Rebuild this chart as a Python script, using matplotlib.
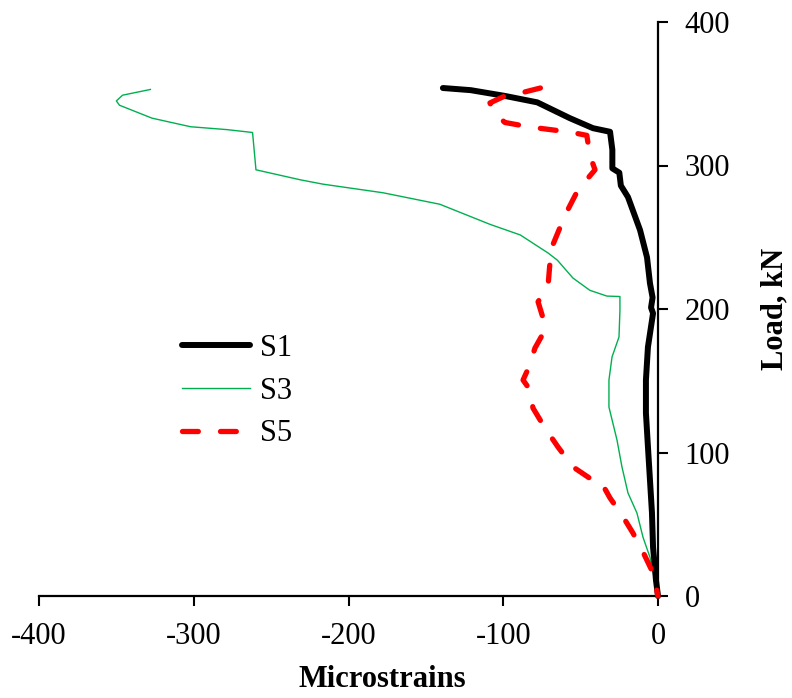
import numpy as np
import matplotlib
matplotlib.use('Agg')
import matplotlib.pyplot as plt

plt.rcParams['font.family'] = ['Liberation Serif', 'DejaVu Serif']
plt.rcParams['axes.unicode_minus'] = False

# S1 - black thick
s1_x = [-139, -121, -99, -78, -57, -42, -31, -29.5, -29.5, -25, -24, -19.4, -11.6, -7.1,
        -5.2, -3.5, -4.5, -3.2, -6.5, -7.8, -7.8, -6.5, -5.2, -3.9, -3.2, -1.3, 0]
s1_y = [354, 352.5, 348.5, 344, 333, 326, 323.5, 311, 298, 295, 286, 278, 255, 236,
        218, 208, 201, 197, 173.5, 150.5, 127.5, 104, 81, 58, 34, 11, 0]

# S3 - green thin
s3_x = [-328, -346, -350, -348, -327, -302, -278.5, -262, -259.8, -231, -216.5, -177.7,
        -141, -108.6, -89, -71, -65, -55, -44, -33, -24.6, -24.6, -25.2, -29.7, -31.7,
        -31.7, -26.5, -23.3, -19.4, -13.6, -9.7, -5.2, -1.9, 0]
s3_y = [353, 349, 345, 342, 333, 327, 325, 323, 297, 290, 287, 281,
        273, 259, 251.6, 239, 234, 221.6, 213, 209, 208.7, 199, 180.5, 166.6, 150.5,
        131.7, 108.7, 90, 71.8, 57.8, 41, 27, 11, 0]

# S5 - red dashed
s5_x = [-76, -87, -99, -108.6, -106, -99, -82.7, -57, -46, -44, -40.7, -51.7, -60, -68,
        -70, -71, -77.5, -74.3, -73.7, -79.5, -83.4, -87.2, -82.7, -80.8, -73, -64.6,
        -55, -44, -37.5, -31, -23.3, -16.2, -9.7, -3.2, 0]
s5_y = [354, 351, 348.4, 343.6, 337, 330, 326.8, 323.3, 321, 307, 297, 283, 265.5, 244.6,
        230, 216.7, 205, 193.7, 184, 172.8, 159.6, 150.5, 143.6, 131, 117, 103.8,
        90, 82, 80.8, 68.3, 56.4, 43.9, 30.7, 16, 0]

fs = 22
fig = plt.figure(figsize=(7.92, 6.98), dpi=100)
ax = fig.add_axes([39/792, 1-596/698, 619/792, 574/698])

l3, = ax.plot(s3_x, s3_y, color='#00B050', lw=1.0, zorder=2, clip_on=False)
l1, = ax.plot(s1_x, s1_y, color='black', lw=4.3, solid_capstyle='round',
              solid_joinstyle='round', zorder=3, clip_on=False)
l5, = ax.plot(s5_x, s5_y, color='#FF0000', lw=3.8, dashes=(3, 4.2),
              dash_capstyle='round', zorder=4, clip_on=False)

ax.set_xlim(-400, 0)
ax.set_ylim(0, 400)
ax.set_xticks([-400, -300, -200, -100, 0])
ax.set_yticks([0, 100, 200, 300, 400])

ax.spines['left'].set_visible(False)
ax.spines['top'].set_visible(False)
ax.spines['bottom'].set_linewidth(1.6)
ax.spines['right'].set_linewidth(1.6)
ax.yaxis.tick_right()
ax.yaxis.set_label_position('right')
ax.tick_params(axis='x', direction='out', length=7, width=1.5, labelsize=fs, pad=12)
ax.tick_params(axis='y', direction='out', length=7, width=1.5, labelsize=fs, pad=12)

ax.set_xlabel('Microstrains', fontsize=fs, fontweight='bold', labelpad=10, x=0.554)
ax.set_ylabel('Load, kN', fontsize=fs, fontweight='bold', labelpad=22)

ax.legend([l1, l3, l5], ['S1', 'S3', 'S5'], loc='center left',
          bbox_to_anchor=(0.2315, 0.357), frameon=False, fontsize=fs,
          handlelength=2.2, handletextpad=0.35, labelspacing=0.45,
          borderpad=0, borderaxespad=0)

fig.savefig('out.png', dpi=100)
